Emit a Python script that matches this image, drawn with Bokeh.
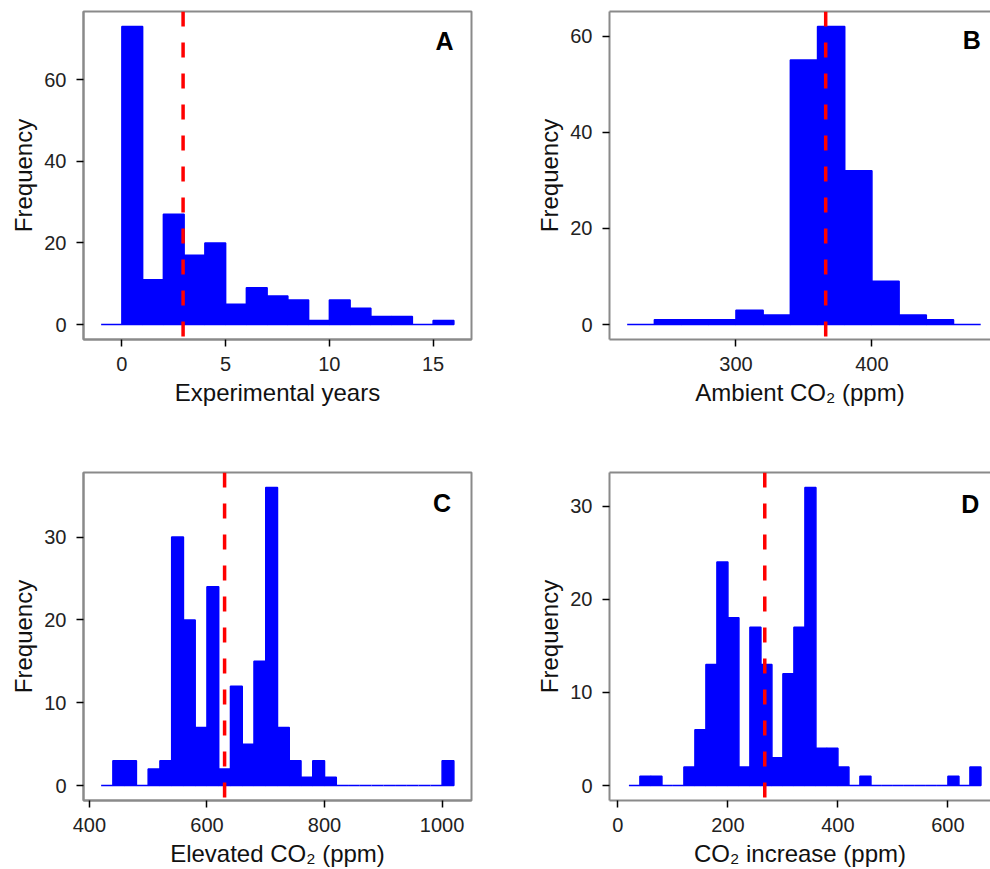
import numpy as np
from bokeh.plotting import figure
from bokeh.models import Span, Label, LinearAxis, FixedTicker, ColumnDataSource, Range1d
from bokeh.layouts import row, column
from bokeh.embed import file_html
from bokeh.resources import INLINE

# ---------------- data ----------------
# Panel A: experimental years, bins of width 1 starting at -1
years_bin_start = -1
years_bin_width = 1
years_counts = [0, 73, 11, 27, 17, 20, 5, 9, 7, 6, 1, 6, 4, 2, 2, 0, 1]
years_mean = 2.95

# Panel B: ambient CO2, bins of width 20 starting at 220
ambient_bin_start = 220
ambient_bin_width = 20
ambient_counts = [0, 1, 1, 1, 3, 2, 55, 62, 32, 9, 2, 1, 0]
ambient_mean = 366

# Panel C: elevated CO2, bins of width 20 starting at 420
elevated_bin_start = 420
elevated_bin_width = 20
elevated_counts = [0, 3, 3, 0, 2, 3, 30, 20, 7, 24, 2, 12, 5, 15, 36, 7, 3, 1, 3, 1,
                   0, 0, 0, 0, 0, 0, 0, 0, 0, 3]
elevated_mean = 630

# Panel D: CO2 increase, bins of width 20 starting at 20
increase_bin_start = 20
increase_bin_width = 20
increase_counts = [0, 1, 1, 0, 0, 2, 6, 13, 24, 18, 2, 17, 13, 3, 12, 17, 32, 4, 4, 2,
                   0, 1, 0, 0, 0, 0, 0, 0, 0, 1, 0, 2]
increase_mean = 267

years_xticks = [0, 5, 10, 15]
years_yticks = [0, 20, 40, 60]
ambient_xticks = [300, 400]
ambient_yticks = [0, 20, 40, 60]
elevated_xticks = [400, 600, 800, 1000]
elevated_yticks = [0, 10, 20, 30]
increase_xticks = [0, 200, 400, 600]
increase_yticks = [0, 10, 20, 30]

# ---------------- styling ----------------
FONT = "Liberation Sans"
GREY = "#8a8a8a"
BLUE = "#0000FF"
TICK_FS = "20px"
TITLE_FS = "24px"


def panel(bin_start, bin_width, counts, mean, xr, yr, xticks, yticks, xlabel,
          letter, letter_xy, w, h, borders, cut):
    bl, br, bt, bb = borders
    p = figure(width=w, height=h, x_range=Range1d(*xr), y_range=Range1d(*yr),
               output_backend="svg", toolbar_location=None,
               min_border_left=bl, min_border_right=br,
               min_border_top=bt, min_border_bottom=bb)
    p.grid.visible = False
    p.background_fill_color = "white"
    p.border_fill_color = "white"

    counts = np.asarray(counts, dtype=float)
    left = bin_start + bin_width * np.arange(len(counts))
    src = ColumnDataSource(dict(left=left, right=left + bin_width,
                                top=counts, bottom=np.zeros_like(counts)))
    p.quad(left="left", right="right", top="top", bottom="bottom", source=src,
           fill_color=BLUE, line_color=BLUE, line_width=1.5)

    p.add_layout(Span(location=mean, dimension="height", line_color="#FF0000",
                      line_width=3.5, line_dash="15 16"))

    p.add_layout(Label(x=letter_xy[0], y=letter_xy[1], text=letter,
                       text_font=FONT, text_font_size="25px",
                       text_font_style="bold", text_align="center",
                       text_baseline="middle", text_color="black"))

    p.xaxis.ticker = FixedTicker(ticks=xticks)
    p.yaxis.ticker = FixedTicker(ticks=yticks)
    p.xaxis.axis_label = xlabel
    p.yaxis.axis_label = "Frequency"
    for ax in (p.xaxis[0], p.yaxis[0]):
        ax.major_tick_in = 0
        ax.major_tick_out = 7
        ax.major_tick_line_color = "black"
        ax.major_tick_line_width = 1.5
        ax.minor_tick_line_color = None
        ax.axis_line_color = GREY
        ax.axis_line_width = 2
        ax.major_label_text_font = FONT
        ax.major_label_text_font_size = TICK_FS
        ax.major_label_text_color = "#222222"
        ax.axis_label_text_font = FONT
        ax.axis_label_text_font_size = TITLE_FS
        ax.axis_label_text_font_style = "normal"
        ax.axis_label_text_color = "#111111"
    p.xaxis.major_label_standoff = 10
    p.xaxis.axis_label_standoff = 5
    p.yaxis.major_label_standoff = 10
    p.yaxis.axis_label_standoff = 4

    if cut:
        p.outline_line_color = None
        top = LinearAxis(ticker=FixedTicker(ticks=[]), axis_line_color=GREY,
                         axis_line_width=2, major_tick_out=0, major_tick_in=0,
                         minor_tick_out=0, minor_tick_in=0,
                         major_label_text_font_size="0px")
        p.add_layout(top, "above")
    else:
        p.outline_line_color = GREY
        p.outline_line_width = 2
    return p


pA = panel(years_bin_start, years_bin_width, years_counts, years_mean,
           (-1.85, 16.85), (-3.65, 76.65), years_xticks, years_yticks,
           "Experimental years", "A", (15.55, 69.4), 528, 430, (83, 57, 10, 89), False)
pB = panel(ambient_bin_start, ambient_bin_width, ambient_counts, ambient_mean,
           (207, 487.2), (-3.1, 65.1), ambient_xticks, ambient_yticks,
           "Ambient CO₂ (ppm)", "B", (473.5, 59.1), 462, 430, (81, 0, 11, 91), True)
pC = panel(elevated_bin_start, elevated_bin_width, elevated_counts, elevated_mean,
           (390, 1050), (-1.8, 37.8), elevated_xticks, elevated_yticks,
           "Elevated CO₂ (ppm)", "C", (1000, 34.1), 528, 439, (83, 57, 42, 69), False)
pD = panel(increase_bin_start, increase_bin_width, increase_counts, increase_mean,
           (-15.3, 677.4), (-1.6, 33.6), increase_xticks, increase_yticks,
           "CO₂ increase (ppm)", "D", (640.5, 30.2), 462, 439, (81, 0, 42, 69), True)

layout = column(row(pA, pB), row(pC, pD))

open("out.html", "w").write(file_html(layout, INLINE))
